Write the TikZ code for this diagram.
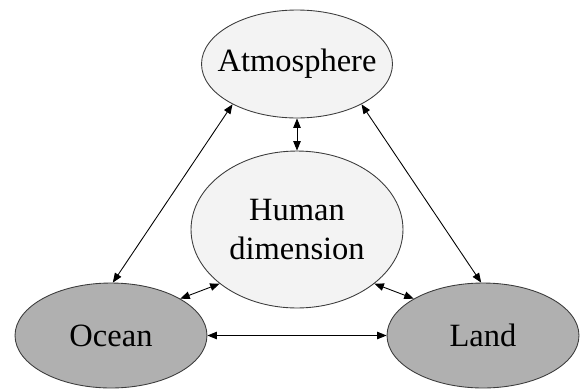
\documentclass[tikz,border=0pt]{standalone}
\usepackage{fontspec}
\setmainfont{Liberation Serif}
\usepackage{tikz}
\usetikzlibrary{arrows.meta, shapes.geometric}
\definecolor{lightfill}{RGB}{243, 243, 243}
\definecolor{darkfill}{RGB}{176, 176, 176}
\definecolor{edgegray}{RGB}{60, 60, 60}

\begin{document}
\begin{tikzpicture}[
    x=0.02cm, y=-0.02cm,
    >={Triangle[length=0.19cm, width=0.15cm]},
    sphere/.style={ellipse, draw=edgegray, line width=0.5pt, inner sep=0pt},
    lightsphere/.style={sphere, fill=lightfill},
    darksphere/.style={sphere, fill=darkfill},
    txt/.style={font=\fontsize{18.5}{21.8}\selectfont, align=center},
    link/.style={<->, line width=0.5pt, black},
]
    \useasboundingbox (0,0) rectangle (584,389);

    \node[lightsphere, minimum width=3.82cm, minimum height=2.16cm,
          label={[txt]center:Atmosphere}] (atm) at (297,64) {};
    \node[lightsphere, minimum width=4.24cm, minimum height=3.14cm,
          label={[txt]center:Human\\dimension}] (hum) at (297,229.5) {};
    \node[darksphere, minimum width=3.84cm, minimum height=2.1cm,
          label={[txt]center:Ocean}] (ocean) at (111,335.5) {};
    \node[darksphere, minimum width=3.84cm, minimum height=2.1cm,
          label={[txt]center:Land}] (land) at (483,335.5) {};

    \draw[link] (atm.212) -- (ocean.88);
    \draw[link] (atm.328) -- (land.92);
    \draw[link] (atm.south) -- (hum.north);
    \draw[link] (ocean.28) -- (hum.215);
    \draw[link] (land.152) -- (hum.325);
    \draw[link] (ocean.east) -- (land.west);
\end{tikzpicture}
\end{document}
